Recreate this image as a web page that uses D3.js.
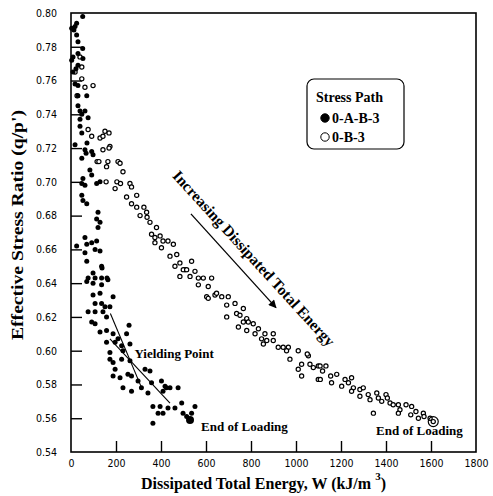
<!DOCTYPE html>
<html>
<head>
<meta charset="utf-8">
<script src="https://cdn.jsdelivr.net/npm/d3@7"></script>
<style>
  body { margin: 0; background: #fff; }
  .serif { font-family: "Liberation Serif", "Times New Roman", serif; font-weight: bold; }
  .tick-label { font-family: "Liberation Sans Narrow", "Arial Narrow", "DejaVu Sans Condensed", sans-serif; font-size: 10.5px; }
</style>
</head>
<body>
<svg id="chart"></svg>
<script>
var width = 493;
var height = 496;

// 0-A-B-3 path (filled markers): [energy W kJ/m3, q/p']
var pathABB3 = [
  [52,0.798],[25,0.794],[18,0.792],[3,0.791],[13,0.790],[25,0.787],[31,0.783],[52,0.779],[31,0.776],[9,0.774],
  [53,0.773],[3,0.772],[31,0.769],[22,0.767],[9,0.765],[18,0.758],[31,0.757],[70,0.751],[31,0.751],[31,0.745],
  [40,0.742],[62,0.742],[48,0.740],[76,0.738],[40,0.737],[40,0.733],[48,0.729],
  [18,0.722],[71,0.723],[62,0.719],[92,0.718],[98,0.716],[48,0.714],[67,0.717],
  [84,0.707],[92,0.704],[53,0.702],[48,0.699],[114,0.699],[129,0.700],[62,0.698],[48,0.692],[53,0.689],[70,0.687],
  [120,0.682],[114,0.678],[129,0.676],[120,0.673],[62,0.667],[92,0.664],[114,0.665],[70,0.663],[25,0.662],[107,0.660],
  [62,0.658],[129,0.659],[70,0.653],[136,0.650],[98,0.646],[76,0.643],[107,0.643],[136,0.643],[164,0.642],[70,0.641],
  [98,0.640],[136,0.639],[138,0.649],[160,0.643],
  [98,0.633],[129,0.634],[187,0.632],[107,0.628],[136,0.628],[151,0.626],[173,0.626],[76,0.623],[107,0.623],[142,0.623],
  [158,0.620],[92,0.617],[107,0.616],[258,0.615],[158,0.612],[129,0.611],[187,0.610],[247,0.610],[209,0.607],[158,0.605],
  [196,0.605],[262,0.604],[225,0.603],[173,0.599],[231,0.600],[225,0.595],[173,0.595],[187,0.593],[262,0.594],[196,0.589],
  [329,0.589],[351,0.588],[187,0.585],[218,0.584],[253,0.586],[269,0.585],[298,0.582],[231,0.578],[269,0.576],[358,0.581],
  [313,0.578],[342,0.575],[402,0.582],[424,0.578],[418,0.579],[440,0.578],[476,0.578],[409,0.576],[364,0.567],[396,0.567],
  [387,0.563],[364,0.557],[431,0.566],[492,0.569],[551,0.567],[409,0.563],[462,0.566],[498,0.563],[514,0.561],[536,0.563],
  [529,0.559]
];

// 0-B-3 path (open markers)
var pathB3 = [
  [40,0.774],[48,0.768],[18,0.765],[48,0.761],[62,0.756],[98,0.757],[27,0.751],[76,0.731],[92,0.727],[129,0.726],
  [151,0.730],[169,0.729],[142,0.727],[173,0.721],[142,0.719],[169,0.720],[116,0.712],[164,0.712],[209,0.712],[124,0.712],
  [218,0.711],[158,0.709],[231,0.706],[156,0.700],[204,0.700],[220,0.699],[196,0.696],[262,0.699],[269,0.697],[247,0.691],
  [292,0.692],[269,0.687],[292,0.685],[324,0.685],[307,0.680],[336,0.682],[338,0.679],[351,0.676],[380,0.673],[358,0.669],
  [373,0.667],[396,0.668],[373,0.664],[409,0.665],[402,0.661],[431,0.665],[440,0.656],[455,0.663],[470,0.657],[484,0.652],
  [462,0.650],[507,0.648],[536,0.653],[529,0.644],[484,0.644],[551,0.647],[499,0.648],[514,0.648],[566,0.643],[588,0.643],
  [625,0.643],[566,0.639],[610,0.638],[603,0.632],[640,0.633],[670,0.632],[699,0.632],[647,0.634],[610,0.631],[692,0.627],
  [729,0.628],[692,0.620],[736,0.622],[766,0.625],[751,0.621],[781,0.619],[766,0.617],[744,0.614],[788,0.617],[781,0.612],
  [810,0.616],[833,0.613],[818,0.610],[862,0.610],[847,0.607],[870,0.606],[855,0.604],[899,0.610],[899,0.606],[921,0.602],
  [943,0.602],[966,0.602],[958,0.600],[973,0.595],[1010,0.600],[1025,0.592],[1010,0.589],[1025,0.585],[1055,0.597],[1062,0.592],
  [1077,0.590],[1099,0.591],[1099,0.583],[1050,0.598],[1107,0.591],[1133,0.591],[1118,0.588],[1108,0.583],[1154,0.585],[1158,0.581],
  [1181,0.586],[1203,0.579],[1218,0.583],[1247,0.584],[1233,0.581],[1255,0.578],[1247,0.576],[1284,0.577],[1284,0.573],[1299,0.578],
  [1321,0.574],[1329,0.571],[1359,0.575],[1366,0.572],[1381,0.570],[1400,0.574],[1406,0.572],[1418,0.569],[1432,0.568],[1455,0.568],
  [1344,0.563],[1462,0.565],[1455,0.563],[1489,0.568],[1514,0.567],[1510,0.562],[1533,0.564],[1544,0.560],[1566,0.563],[1569,0.561],
  [1596,0.560],[1610,0.558]
];

var xTicks = [0, 200, 400, 600, 800, 1000, 1200, 1400, 1600, 1800];
var yTicks = [0.54, 0.56, 0.58, 0.60, 0.62, 0.64, 0.66, 0.68, 0.70, 0.72, 0.74, 0.76, 0.78, 0.80];
var legendLabels = ["0-A-B-3", "0-B-3"];

// tangent lines meeting at the yielding point
var yieldLines = [
  [[175, 0.622], [314, 0.578]],
  [[173, 0.607], [440, 0.569]]
];

var margin = { left: 71, top: 13, right: 17, bottom: 44 };

var svg = d3.select("#chart")
  .attr("width", width)
  .attr("height", height);

var x = d3.scaleLinear().domain([0, 1800]).range([margin.left, width - margin.right]);
var y = d3.scaleLinear().domain([0.54, 0.80]).range([height - margin.bottom, margin.top]);

var g = svg.append("g");

// axes: ticks drawn inward
var xAxis = d3.axisBottom(x).tickValues(xTicks).tickSize(-11).tickFormat(d3.format("d")).tickPadding(8);
var yAxis = d3.axisLeft(y).tickValues(yTicks).tickSize(-11).tickFormat(d3.format(".2f")).tickPadding(14);

var gx = g.append("g").attr("transform", "translate(0," + y(0.54) + ")").call(xAxis);
var gy = g.append("g").attr("transform", "translate(" + x(0) + ",0)").call(yAxis);

[gx, gy].forEach(function(a){
  a.select(".domain").remove();
  a.selectAll(".tick line").attr("stroke", "#000").attr("stroke-width", 1.4);
  a.selectAll(".tick text").attr("class", "tick-label").attr("fill", "#000");
});
gx.selectAll(".tick").filter(function(d){ return d == 0 || d == 1800; }).select("line").remove();
gy.selectAll(".tick").filter(function(d){ return d == 0.80 || d == 0.54; }).select("line").remove();

// frame
g.append("rect")
  .attr("x", x(0)).attr("y", y(0.80))
  .attr("width", x(1800) - x(0)).attr("height", y(0.54) - y(0.80))
  .attr("fill", "none").attr("stroke", "#000").attr("stroke-width", 1.6);

// yield lines
g.selectAll(".yline").data(yieldLines).enter().append("line")
  .attr("x1", function(d){ return x(d[0][0]); }).attr("y1", function(d){ return y(d[0][1]); })
  .attr("x2", function(d){ return x(d[1][0]); }).attr("y2", function(d){ return y(d[1][1]); })
  .attr("stroke", "#000").attr("stroke-width", 1.1);

// points
g.selectAll(".open").data(pathB3).enter().append("circle")
  .attr("cx", function(d){ return x(d[0]); })
  .attr("cy", function(d){ return y(d[1]); })
  .attr("r", 2.1)
  .attr("fill", "#fff").attr("stroke", "#000").attr("stroke-width", 1.2);

g.selectAll(".filled").data(pathABB3).enter().append("circle")
  .attr("cx", function(d){ return x(d[0]); })
  .attr("cy", function(d){ return y(d[1]); })
  .attr("r", 2.5)
  .attr("fill", "#000");

// end of loading markers
var lastA = pathABB3[pathABB3.length - 1];
var lastB = pathB3[pathB3.length - 1];
g.append("circle").attr("cx", x(lastA[0])).attr("cy", y(lastA[1])).attr("r", 4).attr("fill", "#000");
g.append("circle").attr("cx", x(lastB[0])).attr("cy", y(lastB[1])).attr("r", 5)
  .attr("fill", "none").attr("stroke", "#000").attr("stroke-width", 1.2);

// annotations
g.append("text").attr("class", "serif").attr("font-size", 13)
  .attr("x", x(282)).attr("y", y(0.5958)).text("Yielding Point");
g.append("text").attr("class", "serif").attr("font-size", 13)
  .attr("x", x(578)).attr("y", y(0.5525)).text("End of Loading");
g.append("text").attr("class", "serif").attr("font-size", 13)
  .attr("x", x(1356)).attr("y", y(0.5501)).text("End of Loading");

// arrow
svg.append("defs").append("marker")
  .attr("id", "arrowhead").attr("viewBox", "0 0 10 10")
  .attr("refX", 9).attr("refY", 5)
  .attr("markerWidth", 9).attr("markerHeight", 8)
  .attr("markerUnits", "userSpaceOnUse")
  .attr("orient", "auto")
  .append("path").attr("d", "M0,0 L10,5 L0,10 z").attr("fill", "#000");

g.append("line")
  .attr("x1", x(533)).attr("y1", y(0.681))
  .attr("x2", x(911)).attr("y2", y(0.6255))
  .attr("stroke", "#000").attr("stroke-width", 1.3)
  .attr("marker-end", "url(#arrowhead)");

g.append("text").attr("class", "serif").attr("font-size", 15.5)
  .attr("text-anchor", "middle")
  .attr("transform", "translate(250,262) rotate(47.5)")
  .text("Increasing Dissipated Total Energy");

// legend
var lg = g.append("g").attr("transform", "translate(307,79)");
lg.append("rect").attr("width", 97).attr("height", 70).attr("rx", 7)
  .attr("fill", "#fff").attr("stroke", "#000").attr("stroke-width", 1.2);
lg.append("text").attr("class", "serif").attr("font-size", 14)
  .attr("x", 9).attr("y", 23).text("Stress Path");
lg.selectAll(".lgitem").data(legendLabels).enter().append("g")
  .attr("transform", function(d, i){ return "translate(0," + (39 + i * 19) + ")"; })
  .each(function(d, i){
    var it = d3.select(this);
    it.append("circle").attr("cx", 18).attr("cy", 0).attr("r", 4.2)
      .attr("fill", i == 0 ? "#000" : "#fff").attr("stroke", "#000").attr("stroke-width", 1);
    it.append("text").attr("class", "serif").attr("font-size", 14)
      .attr("x", 25).attr("y", 5).text(d);
  });

// axis titles
var xt = svg.append("text").attr("class", "serif").attr("font-size", 16)
  .attr("x", 141).attr("y", 489);
xt.append("tspan").text("Dissipated Total Energy, W (kJ/m ");
xt.append("tspan").attr("font-size", 11).attr("dy", -9).text("3");
xt.append("tspan").attr("dy", 9).text(")");

svg.append("text").attr("class", "serif").attr("font-size", 16)
  .attr("text-anchor", "middle")
  .attr("transform", "translate(23,225) rotate(-90)")
  .attr("textLength", 230).attr("lengthAdjust", "spacingAndGlyphs")
  .text("Effective Stress Ratio (q/p')");
</script>
</body>
</html>
